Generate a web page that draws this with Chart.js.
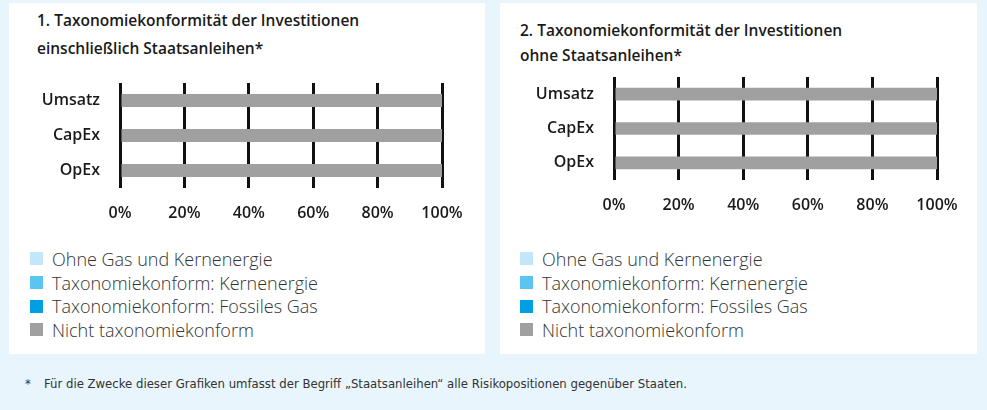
<!DOCTYPE html>
<html lang="de">
<head>
  <meta charset="UTF-8">
  <title>Taxonomiekonformität</title>
  <script src="https://cdn.jsdelivr.net/npm/chart.js"></script>
  <style>
    body { margin: 0; width: 987px; height: 410px; background: #e8f5fd; position: relative; overflow: hidden; font-family: "Open Sans", sans-serif; }
    .panel { position: absolute; top: 3px; height: 351px; background: #fff; }
    .title { position: absolute; font-size: 15.5px; font-weight: 600; color: #1a1a1a; margin: 0; }
    .chart-box { position: absolute; }
    .legend { position: absolute; list-style: none; margin: 0; padding: 0; }
    .legend li { height: 23.7px; display: flex; align-items: center; font-size: 18px; font-weight: 300; color: #333; }
    .legend span.box { width: 13px; height: 13px; margin-right: 9px; display: inline-block; }
    .footnote { position: absolute; left: 25px; top: 376px; font-family: "Liberation Sans Narrow", "DejaVu Sans Condensed", sans-serif; font-stretch: condensed; font-size: 13px; color: #333; }
    .footnote .star { display: inline-block; width: 19px; }
  </style>
</head>
<body>

  <div class="panel" style="left:9px; width:476px;"></div>
  <div class="panel" style="left:500px; width:477px;"></div>

  <p class="title" style="left:37px; top:6px; line-height:28px;">1. Taxonomiekonformität der Investitionen<br>einschließlich Staatsanleihen*</p>
  <p class="title" style="left:520px; top:18px; line-height:25px;">2. Taxonomiekonformität der Investitionen<br>ohne Staatsanleihen*</p>

  <div class="chart-box" style="left:20px; top:70px; width:460px; height:160px;"><canvas id="chart1"></canvas></div>
  <div class="chart-box" style="left:514px; top:64px; width:461px; height:158px;"><canvas id="chart2"></canvas></div>

  <ul class="legend" id="legend1" style="left:30px; top:247px;"></ul>
  <ul class="legend" id="legend2" style="left:520px; top:247px;"></ul>

  <div class="footnote"><span class="star">*</span>Für die Zwecke dieser Grafiken umfasst der Begriff „Staatsanleihen“ alle Risikopositionen gegenüber Staaten.</div>

  <script>
    // Kategorien und Werte (in %)
    const categories = ['Umsatz', 'CapEx', 'OpEx'];
    const seriesLabels = ['Ohne Gas und Kernenergie', 'Taxonomiekonform: Kernenergie', 'Taxonomiekonform: Fossiles Gas', 'Nicht taxonomiekonform'];
    const seriesColors = ['#c2e6fa', '#5bc5f2', '#009fe3', '#a0a0a0'];

    // Diagramm 1: einschließlich Staatsanleihen
    const ohneGas1 = [0, 0, 0];
    const kernenergie1 = [0, 0, 0];
    const fossilesGas1 = [0, 0, 0];
    const nichtKonform1 = [100, 100, 100];

    // Diagramm 2: ohne Staatsanleihen
    const ohneGas2 = [0, 0, 0];
    const kernenergie2 = [0, 0, 0];
    const fossilesGas2 = [0, 0, 0];
    const nichtKonform2 = [100, 100, 100];

    const tickValues = [0, 20, 40, 60, 80, 100];

    const tickFont = { family: 'Open Sans', size: 16, weight: '600' };

    // keine automatische Randabstände durch Beschriftungen
    function noPadding(scale) {
      scale.paddingLeft = 0;
      scale.paddingRight = 0;
      scale.paddingTop = 0;
      scale.paddingBottom = 0;
    }

    function makeChart(id, legendId, series) {
      const ctx = document.getElementById(id).getContext('2d');
      const chart = new Chart(ctx, {
        type: 'bar',
        data: {
          labels: categories,
          datasets: series.map((values, i) => ({
            label: seriesLabels[i],
            data: values,
            backgroundColor: seriesColors[i],
            borderWidth: 0,
            barPercentage: 1,
            categoryPercentage: 0.37,
          })),
        },
        options: {
          indexAxis: 'y',
          responsive: true,
          maintainAspectRatio: false,
          animation: false,
          layout: { padding: { top: 13, right: 38, left: 0, bottom: 0 } },
          scales: {
            x: {
              stacked: true,
              min: 0,
              max: 100,
              afterBuildTicks: (scale) => { scale.ticks = tickValues.map(v => ({ value: v })); },
              afterFit: (scale) => { scale.height = 42; noPadding(scale); },
              border: { display: false },
              grid: { color: '#111', lineWidth: 3, drawTicks: false },
              ticks: {
                padding: 16,
                color: '#1a1a1a',
                font: tickFont,
                callback: (v) => v + '%',
              },
            },
            y: {
              stacked: true,
              afterFit: (scale) => { scale.width = 100; noPadding(scale); },
              border: { display: false },
              grid: { display: false, drawTicks: false },
              ticks: { padding: 20, color: '#1a1a1a', font: tickFont },
            },
          },
          plugins: {
            legend: { display: false },
            tooltip: { enabled: false },
          },
        },
      });

      // HTML-Legende aus den Datensätzen des Diagramms
      const ul = document.getElementById(legendId);
      chart.data.datasets.forEach((ds) => {
        const li = document.createElement('li');
        const box = document.createElement('span');
        box.className = 'box';
        box.style.background = ds.backgroundColor;
        li.appendChild(box);
        li.appendChild(document.createTextNode(ds.label));
        ul.appendChild(li);
      });
      return chart;
    }

    makeChart('chart1', 'legend1', [ohneGas1, kernenergie1, fossilesGas1, nichtKonform1]);
    makeChart('chart2', 'legend2', [ohneGas2, kernenergie2, fossilesGas2, nichtKonform2]);
  </script>

</body>
</html>
